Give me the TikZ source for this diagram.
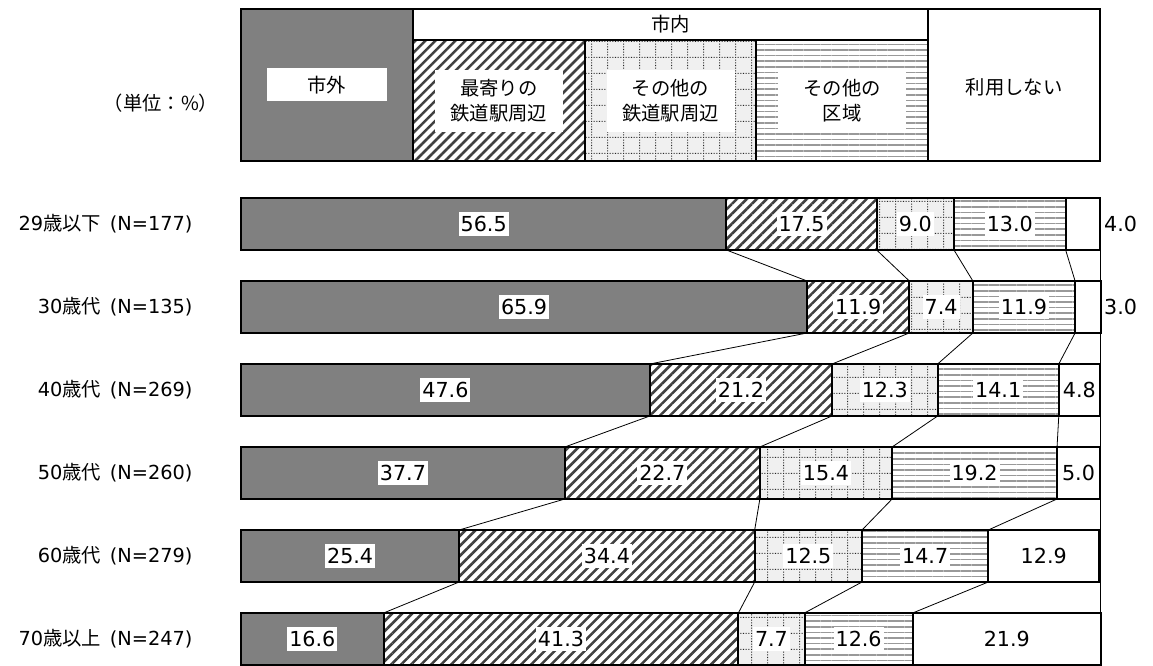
\documentclass[tikz,border=0pt]{standalone}
\usepackage{fontspec}
\setmainfont{Noto Sans CJK JP}
\newfontfamily\numfont{DejaVu Sans}
\usepackage{tikz}
\usetikzlibrary{patterns,patterns.meta}

\pgfdeclarepatternformonly{dotgrid}{\pgfpointorigin}{\pgfpoint{12pt}{12pt}}{\pgfpoint{12pt}{12pt}}{
    \pgfpathrectangle{\pgfpoint{0pt}{0pt}}{\pgfpoint{.8pt}{.8pt}}
    \pgfpathrectangle{\pgfpoint{2pt}{0pt}}{\pgfpoint{.8pt}{.8pt}}
    \pgfpathrectangle{\pgfpoint{4pt}{0pt}}{\pgfpoint{.8pt}{.8pt}}
    \pgfpathrectangle{\pgfpoint{6pt}{0pt}}{\pgfpoint{.8pt}{.8pt}}
    \pgfpathrectangle{\pgfpoint{8pt}{0pt}}{\pgfpoint{.8pt}{.8pt}}
    \pgfpathrectangle{\pgfpoint{10pt}{0pt}}{\pgfpoint{.8pt}{.8pt}}
    \pgfpathrectangle{\pgfpoint{0pt}{2pt}}{\pgfpoint{.8pt}{.8pt}}
    \pgfpathrectangle{\pgfpoint{0pt}{4pt}}{\pgfpoint{.8pt}{.8pt}}
    \pgfpathrectangle{\pgfpoint{0pt}{6pt}}{\pgfpoint{.8pt}{.8pt}}
    \pgfpathrectangle{\pgfpoint{0pt}{8pt}}{\pgfpoint{.8pt}{.8pt}}
    \pgfpathrectangle{\pgfpoint{0pt}{10pt}}{\pgfpoint{.8pt}{.8pt}}
    \pgfusepath{fill}
}

\newcommand{\barunit}{6.4425pt}

\begin{document}
\begin{tikzpicture}[x=6.4425pt, y=-0.75pt,
    every node/.style={font=\fontsize{14.5pt}{18.75pt}\selectfont},
    seg/.style={draw, line width=1.5pt, anchor=west, minimum height=39pt, inner sep=0pt, outer sep=0pt},
    soto/.style={seg, fill=black!50},
    moyori/.style={seg, pattern={Lines[angle=45, distance=5.3pt, line width=1.9pt]}, pattern color=black!75},
    tanoeki/.style={seg, preaction={fill=black!6}, pattern=dotgrid, pattern color=black!85},
    tanokuiki/.style={seg, pattern={Lines[angle=0, distance=4.2pt, line width=1.3pt]}, pattern color=black!40},
    nashi/.style={seg, fill=white},
    val/.style={fill=white, inner xsep=1.5pt, inner ysep=3pt, font={\numfont\fontsize{15.5pt}{18pt}\selectfont}},
    num/.style={font={\numfont\fontsize{15.5pt}{18pt}\selectfont}},
    lbox/.style={fill=white, align=center, minimum width=96pt, minimum height=46.5pt, inner sep=0pt},
    conn/.style={line width=0.6pt}]
    \useasboundingbox (-28.06,0) rectangle (106.17,666);
    % legend
    \node[soto, anchor=north west, minimum width=20*\barunit, minimum height=114pt] (lsoto) at (0,9) {};
    \node[seg, anchor=north west, minimum width=60*\barunit, minimum height=23.25pt] (lnai) at (20,9) {市内};
    \node[moyori, anchor=north west, minimum width=20*\barunit, minimum height=90.75pt] (lmoyori) at (20,40) {};
    \node[tanoeki, anchor=north west, minimum width=20*\barunit, minimum height=90.75pt] (ltanoeki) at (40,40) {};
    \node[tanokuiki, anchor=north west, minimum width=20*\barunit, minimum height=90.75pt] (ltanokuiki) at (60,40) {};
    \node[nashi, anchor=north west, minimum width=20*\barunit, minimum height=114pt] (lnashi) at (80,9) {};
    \node[fill=white, minimum width=90pt, minimum height=24.75pt, inner sep=0pt] (tsoto) at (lsoto.center) {市外};
    \node[lbox] (tmoyori) at (30,101) {最寄りの\\鉄道駅周辺};
    \node[lbox] (ttanoeki) at (50,101) {その他の\\鉄道駅周辺};
    \node[lbox] (ttanokuiki) at (70,101) {その他の\\区域};
    \node (tnashi) at (90,87) {利用しない};
    \node[anchor=east] (tani) at (-2.1,103) {（単位：\%）};
    % row labels
    \node[anchor=east] (r1) at (-5.1,224) {{\numfont 29}歳以下\hspace{0.45em}{\numfont(N=177)}};
    \node[anchor=east] (r2) at (-5.1,307) {{\numfont 30}歳代\hspace{0.45em}{\numfont(N=135)}};
    \node[anchor=east] (r3) at (-5.1,390) {{\numfont 40}歳代\hspace{0.45em}{\numfont(N=269)}};
    \node[anchor=east] (r4) at (-5.1,473) {{\numfont 50}歳代\hspace{0.45em}{\numfont(N=260)}};
    \node[anchor=east] (r5) at (-5.1,556) {{\numfont 60}歳代\hspace{0.45em}{\numfont(N=279)}};
    \node[anchor=east] (r6) at (-5.1,639) {{\numfont 70}歳以上\hspace{0.45em}{\numfont(N=247)}};
    % bars
    \node[soto, minimum width=56.5*\barunit] (a11) at (0,224) {};
    \node[moyori, minimum width=17.5*\barunit] (a12) at (a11.east) {};
    \node[tanoeki, minimum width=9.0*\barunit] (a13) at (a12.east) {};
    \node[tanokuiki, minimum width=13.0*\barunit] (a14) at (a13.east) {};
    \node[nashi, minimum width=4.0*\barunit] (a15) at (a14.east) {};
    \node[soto, minimum width=65.9*\barunit] (a21) at (0,307) {};
    \node[moyori, minimum width=11.9*\barunit] (a22) at (a21.east) {};
    \node[tanoeki, minimum width=7.4*\barunit] (a23) at (a22.east) {};
    \node[tanokuiki, minimum width=11.9*\barunit] (a24) at (a23.east) {};
    \node[nashi, minimum width=3.0*\barunit] (a25) at (a24.east) {};
    \node[soto, minimum width=47.6*\barunit] (a31) at (0,390) {};
    \node[moyori, minimum width=21.2*\barunit] (a32) at (a31.east) {};
    \node[tanoeki, minimum width=12.3*\barunit] (a33) at (a32.east) {};
    \node[tanokuiki, minimum width=14.1*\barunit] (a34) at (a33.east) {};
    \node[nashi, minimum width=4.8*\barunit] (a35) at (a34.east) {};
    \node[soto, minimum width=37.7*\barunit] (a41) at (0,473) {};
    \node[moyori, minimum width=22.7*\barunit] (a42) at (a41.east) {};
    \node[tanoeki, minimum width=15.4*\barunit] (a43) at (a42.east) {};
    \node[tanokuiki, minimum width=19.2*\barunit] (a44) at (a43.east) {};
    \node[nashi, minimum width=5.0*\barunit] (a45) at (a44.east) {};
    \node[soto, minimum width=25.4*\barunit] (a51) at (0,556) {};
    \node[moyori, minimum width=34.4*\barunit] (a52) at (a51.east) {};
    \node[tanoeki, minimum width=12.5*\barunit] (a53) at (a52.east) {};
    \node[tanokuiki, minimum width=14.7*\barunit] (a54) at (a53.east) {};
    \node[nashi, minimum width=12.9*\barunit] (a55) at (a54.east) {};
    \node[soto, minimum width=16.6*\barunit] (a61) at (0,639) {};
    \node[moyori, minimum width=41.3*\barunit] (a62) at (a61.east) {};
    \node[tanoeki, minimum width=7.7*\barunit] (a63) at (a62.east) {};
    \node[tanokuiki, minimum width=12.6*\barunit] (a64) at (a63.east) {};
    \node[nashi, minimum width=21.9*\barunit] (a65) at (a64.east) {};
    % values
    \node[val] (v11) at (a11) {56.5};
    \node[val] (v12) at (a12) {17.5};
    \node[val] (v13) at (a13) {9.0};
    \node[val] (v14) at (a14) {13.0};
    \node[num] (v15) at (102.4,224) {4.0};
    \node[val] (v21) at (a21) {65.9};
    \node[val] (v22) at (a22) {11.9};
    \node[val] (v23) at (a23) {7.4};
    \node[val] (v24) at (a24) {11.9};
    \node[num] (v25) at (102.4,307) {3.0};
    \node[val] (v31) at (a31) {47.6};
    \node[val] (v32) at (a32) {21.2};
    \node[val] (v33) at (a33) {12.3};
    \node[val] (v34) at (a34) {14.1};
    \node[num] (v35) at (a35) {4.8};
    \node[val] (v41) at (a41) {37.7};
    \node[val] (v42) at (a42) {22.7};
    \node[val] (v43) at (a43) {15.4};
    \node[val] (v44) at (a44) {19.2};
    \node[num] (v45) at (a45) {5.0};
    \node[val] (v51) at (a51) {25.4};
    \node[val] (v52) at (a52) {34.4};
    \node[val] (v53) at (a53) {12.5};
    \node[val] (v54) at (a54) {14.7};
    \node[num] (v55) at (a55) {12.9};
    \node[val] (v61) at (a61) {16.6};
    \node[val] (v62) at (a62) {41.3};
    \node[val] (v63) at (a63) {7.7};
    \node[val] (v64) at (a64) {12.6};
    \node[num] (v65) at (a65) {21.9};
    % connectors
    \draw[conn] (a11.south east) -- (a21.north east);
    \draw[conn] (a12.south east) -- (a22.north east);
    \draw[conn] (a13.south east) -- (a23.north east);
    \draw[conn] (a14.south east) -- (a24.north east);
    \draw[conn] (a21.south east) -- (a31.north east);
    \draw[conn] (a22.south east) -- (a32.north east);
    \draw[conn] (a23.south east) -- (a33.north east);
    \draw[conn] (a24.south east) -- (a34.north east);
    \draw[conn] (a31.south east) -- (a41.north east);
    \draw[conn] (a32.south east) -- (a42.north east);
    \draw[conn] (a33.south east) -- (a43.north east);
    \draw[conn] (a34.south east) -- (a44.north east);
    \draw[conn] (a41.south east) -- (a51.north east);
    \draw[conn] (a42.south east) -- (a52.north east);
    \draw[conn] (a43.south east) -- (a53.north east);
    \draw[conn] (a44.south east) -- (a54.north east);
    \draw[conn] (a51.south east) -- (a61.north east);
    \draw[conn] (a52.south east) -- (a62.north east);
    \draw[conn] (a53.south east) -- (a63.north east);
    \draw[conn] (a54.south east) -- (a64.north east);
    \coordinate (full1) at (100,198);
    \coordinate (full6) at (100,665);
    \draw[conn] (full1) -- (full6);
\end{tikzpicture}
\end{document}
